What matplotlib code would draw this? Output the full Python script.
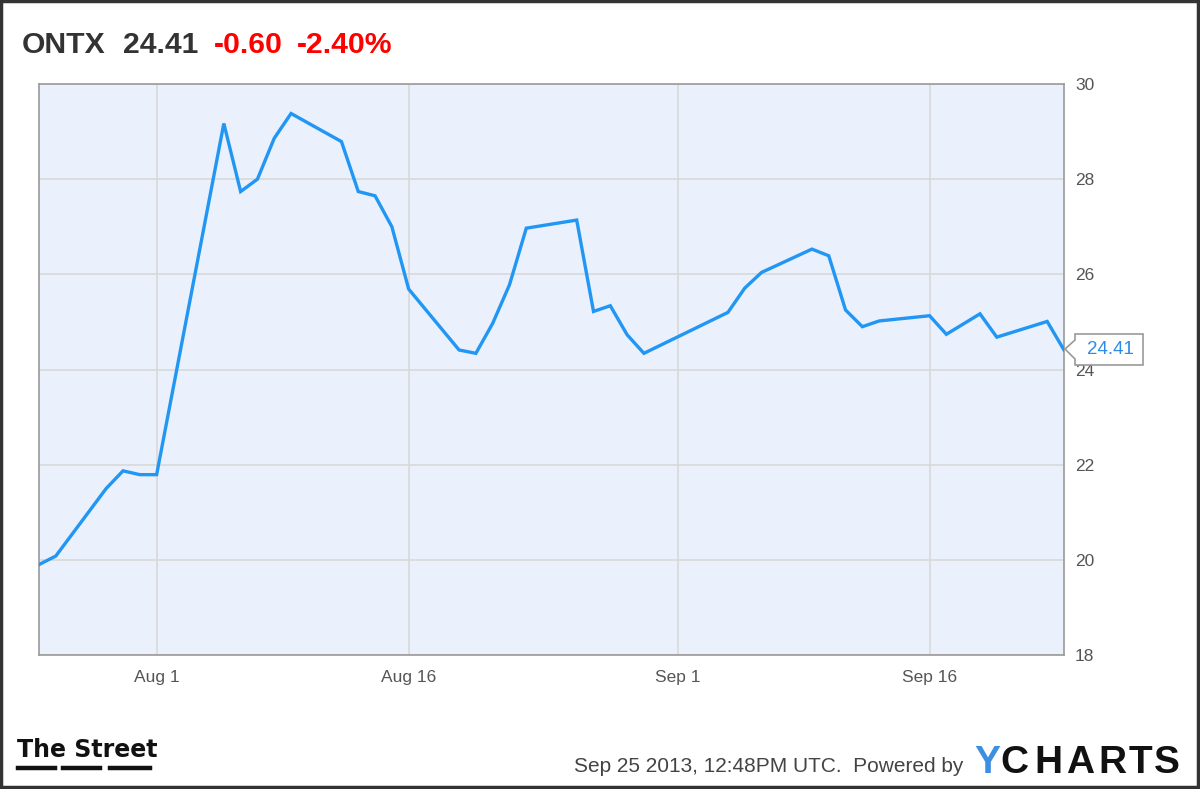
import matplotlib
matplotlib.use("Agg")
import matplotlib.pyplot as plt
from matplotlib import font_manager
from matplotlib.patches import Polygon, Rectangle
from matplotlib.lines import Line2D
import pandas as pd

# ---- data ----
dates = ["2013-07-25", "2013-07-26", "2013-07-29", "2013-07-30", "2013-07-31",
         "2013-08-01", "2013-08-05", "2013-08-06", "2013-08-07", "2013-08-08",
         "2013-08-09", "2013-08-12", "2013-08-13", "2013-08-14", "2013-08-15",
         "2013-08-16", "2013-08-19", "2013-08-20", "2013-08-21", "2013-08-22",
         "2013-08-23", "2013-08-26", "2013-08-27", "2013-08-28", "2013-08-29",
         "2013-08-30", "2013-09-04", "2013-09-05", "2013-09-06", "2013-09-09",
         "2013-09-10", "2013-09-11", "2013-09-12", "2013-09-13", "2013-09-16",
         "2013-09-17", "2013-09-19", "2013-09-20", "2013-09-23", "2013-09-24"]
prices = [19.90, 20.08, 21.50, 21.87, 21.79,
          21.79, 29.17, 27.74, 28.00, 28.86,
          29.38, 28.79, 27.74, 27.65, 27.00,
          25.69, 24.41, 24.34, 24.97, 25.78,
          26.97, 27.14, 25.22, 25.34, 24.73,
          24.34, 25.20, 25.71, 26.04, 26.53,
          26.39, 25.25, 24.90, 25.02, 25.13,
          24.74, 25.17, 24.68, 25.01, 24.41]
tick_dates = ["2013-08-01", "2013-08-16", "2013-09-01", "2013-09-16"]
tick_labels = ["Aug 1", "Aug 16", "Sep 1", "Sep 16"]
y_ticks = [18, 20, 22, 24, 26, 28, 30]
ticker = "ONTX"
last_price = "24.41"
change = "-0.60"
change_pct = "-2.40%"
footer_text = "Sep 25 2013, 12:48PM UTC.  Powered by"
brand_letters = ["Y", "C", "H", "A", "R", "T", "S"]

W, H = 1200, 789
fig = plt.figure(figsize=(W / 100, H / 100), dpi=100)
fig.patch.set_facecolor("white")

avail = {f.name for f in font_manager.fontManager.ttflist}
narrow = "Liberation Sans Narrow" if "Liberation Sans Narrow" in avail else "Liberation Sans"
base = "Liberation Sans"

def fx(px):
    return px / W

def fy(py):
    return 1 - py / H

# plot area (pixel coords of reference)
L, R, T, B = 39, 1064, 84, 655
ax = fig.add_axes([fx(L), fy(B), fx(R - L), (B - T) / H])
ax.set_facecolor("#EAF0FC")

x = pd.to_datetime(dates)
ax.plot(x, prices, color="#2196F3", lw=2.4, solid_joinstyle="miter", zorder=3)

ax.set_xlim(pd.Timestamp("2013-07-25"), pd.Timestamp("2013-09-24"))
ax.set_ylim(18, 30)
ax.set_xticks(pd.to_datetime(tick_dates))
ax.set_xticklabels(tick_labels)
ax.set_yticks(y_ticks)
ax.set_yticklabels([str(v) for v in y_ticks])
ax.yaxis.tick_right()
ax.grid(True, color="#D8D8D8", lw=1.2)
ax.set_axisbelow(True)
ax.tick_params(axis="both", length=0, labelsize=12.5, labelcolor="#555555")
ax.tick_params(axis="y", pad=8)
ax.tick_params(axis="x", pad=11)
for lab in ax.get_xticklabels() + ax.get_yticklabels():
    lab.set_family(base)
for s in ax.spines.values():
    s.set_color("#999999")
    s.set_linewidth(1.2)

# last price callout
tip_x, tip_y = 1065, 349
bx0, bx1, by0, by1 = 1075, 1143, 334, 365
poly = [(tip_x, tip_y), (bx0, by0 + 6), (bx0, by0), (bx1, by0), (bx1, by1), (bx0, by1), (bx0, by1 - 6)]
fig.patches.append(Polygon([(fx(a), fy(b)) for a, b in poly], closed=True,
                           transform=fig.transFigure, facecolor="white",
                           edgecolor="#999999", lw=1.2, zorder=5))
fig.text(fx((bx0 + bx1) / 2 + 1), fy((by0 + by1) / 2), last_price, color="#2D8CE6",
         fontsize=13.5, family=base, ha="center", va="center", zorder=6)

# title
title_y = fy(53)
fig.text(fx(22), title_y, ticker, fontsize=21.7, weight="bold", color="#333333",
         family=base, va="baseline")
fig.text(fx(123), title_y, last_price, fontsize=21.7, weight="bold", color="#333333",
         family=base, va="baseline")
fig.text(fx(214), title_y, change, fontsize=21.7, weight="bold", color="#FF0000",
         family=base, va="baseline")
fig.text(fx(297), title_y, change_pct, fontsize=21.7, weight="bold", color="#FF0000",
         family=base, va="baseline")

# footer: The Street logo
fig.text(fx(17), fy(757), "The Street", fontsize=17, weight="bold", color="#111111",
         family="DejaVu Sans", va="baseline")
for a, b in [(18, 55), (63, 100), (110, 150)]:
    fig.add_artist(Line2D([fx(a), fx(b)], [fy(768), fy(768)], color="#111111", lw=3.2,
                          transform=fig.transFigure))

# footer: timestamp and YCharts
fig.text(fx(963), fy(772), footer_text, fontsize=15, color="#444444",
         family=narrow, va="baseline", ha="right")
letter_x = [974, 1000, 1034, 1066, 1098, 1129, 1154]
for ch, px in zip(brand_letters, letter_x):
    fig.text(fx(px), fy(773), ch, fontsize=28, weight="bold",
             color="#3D8FE0" if ch == "Y" else "#111111", family=base, va="baseline")

# outer frame
fig.patches.append(Rectangle((0.001, 0.002), 0.997, 0.997, transform=fig.transFigure,
                             fill=False, edgecolor="#333333", lw=2.5, zorder=10))

fig.savefig("out.png", dpi=100)
